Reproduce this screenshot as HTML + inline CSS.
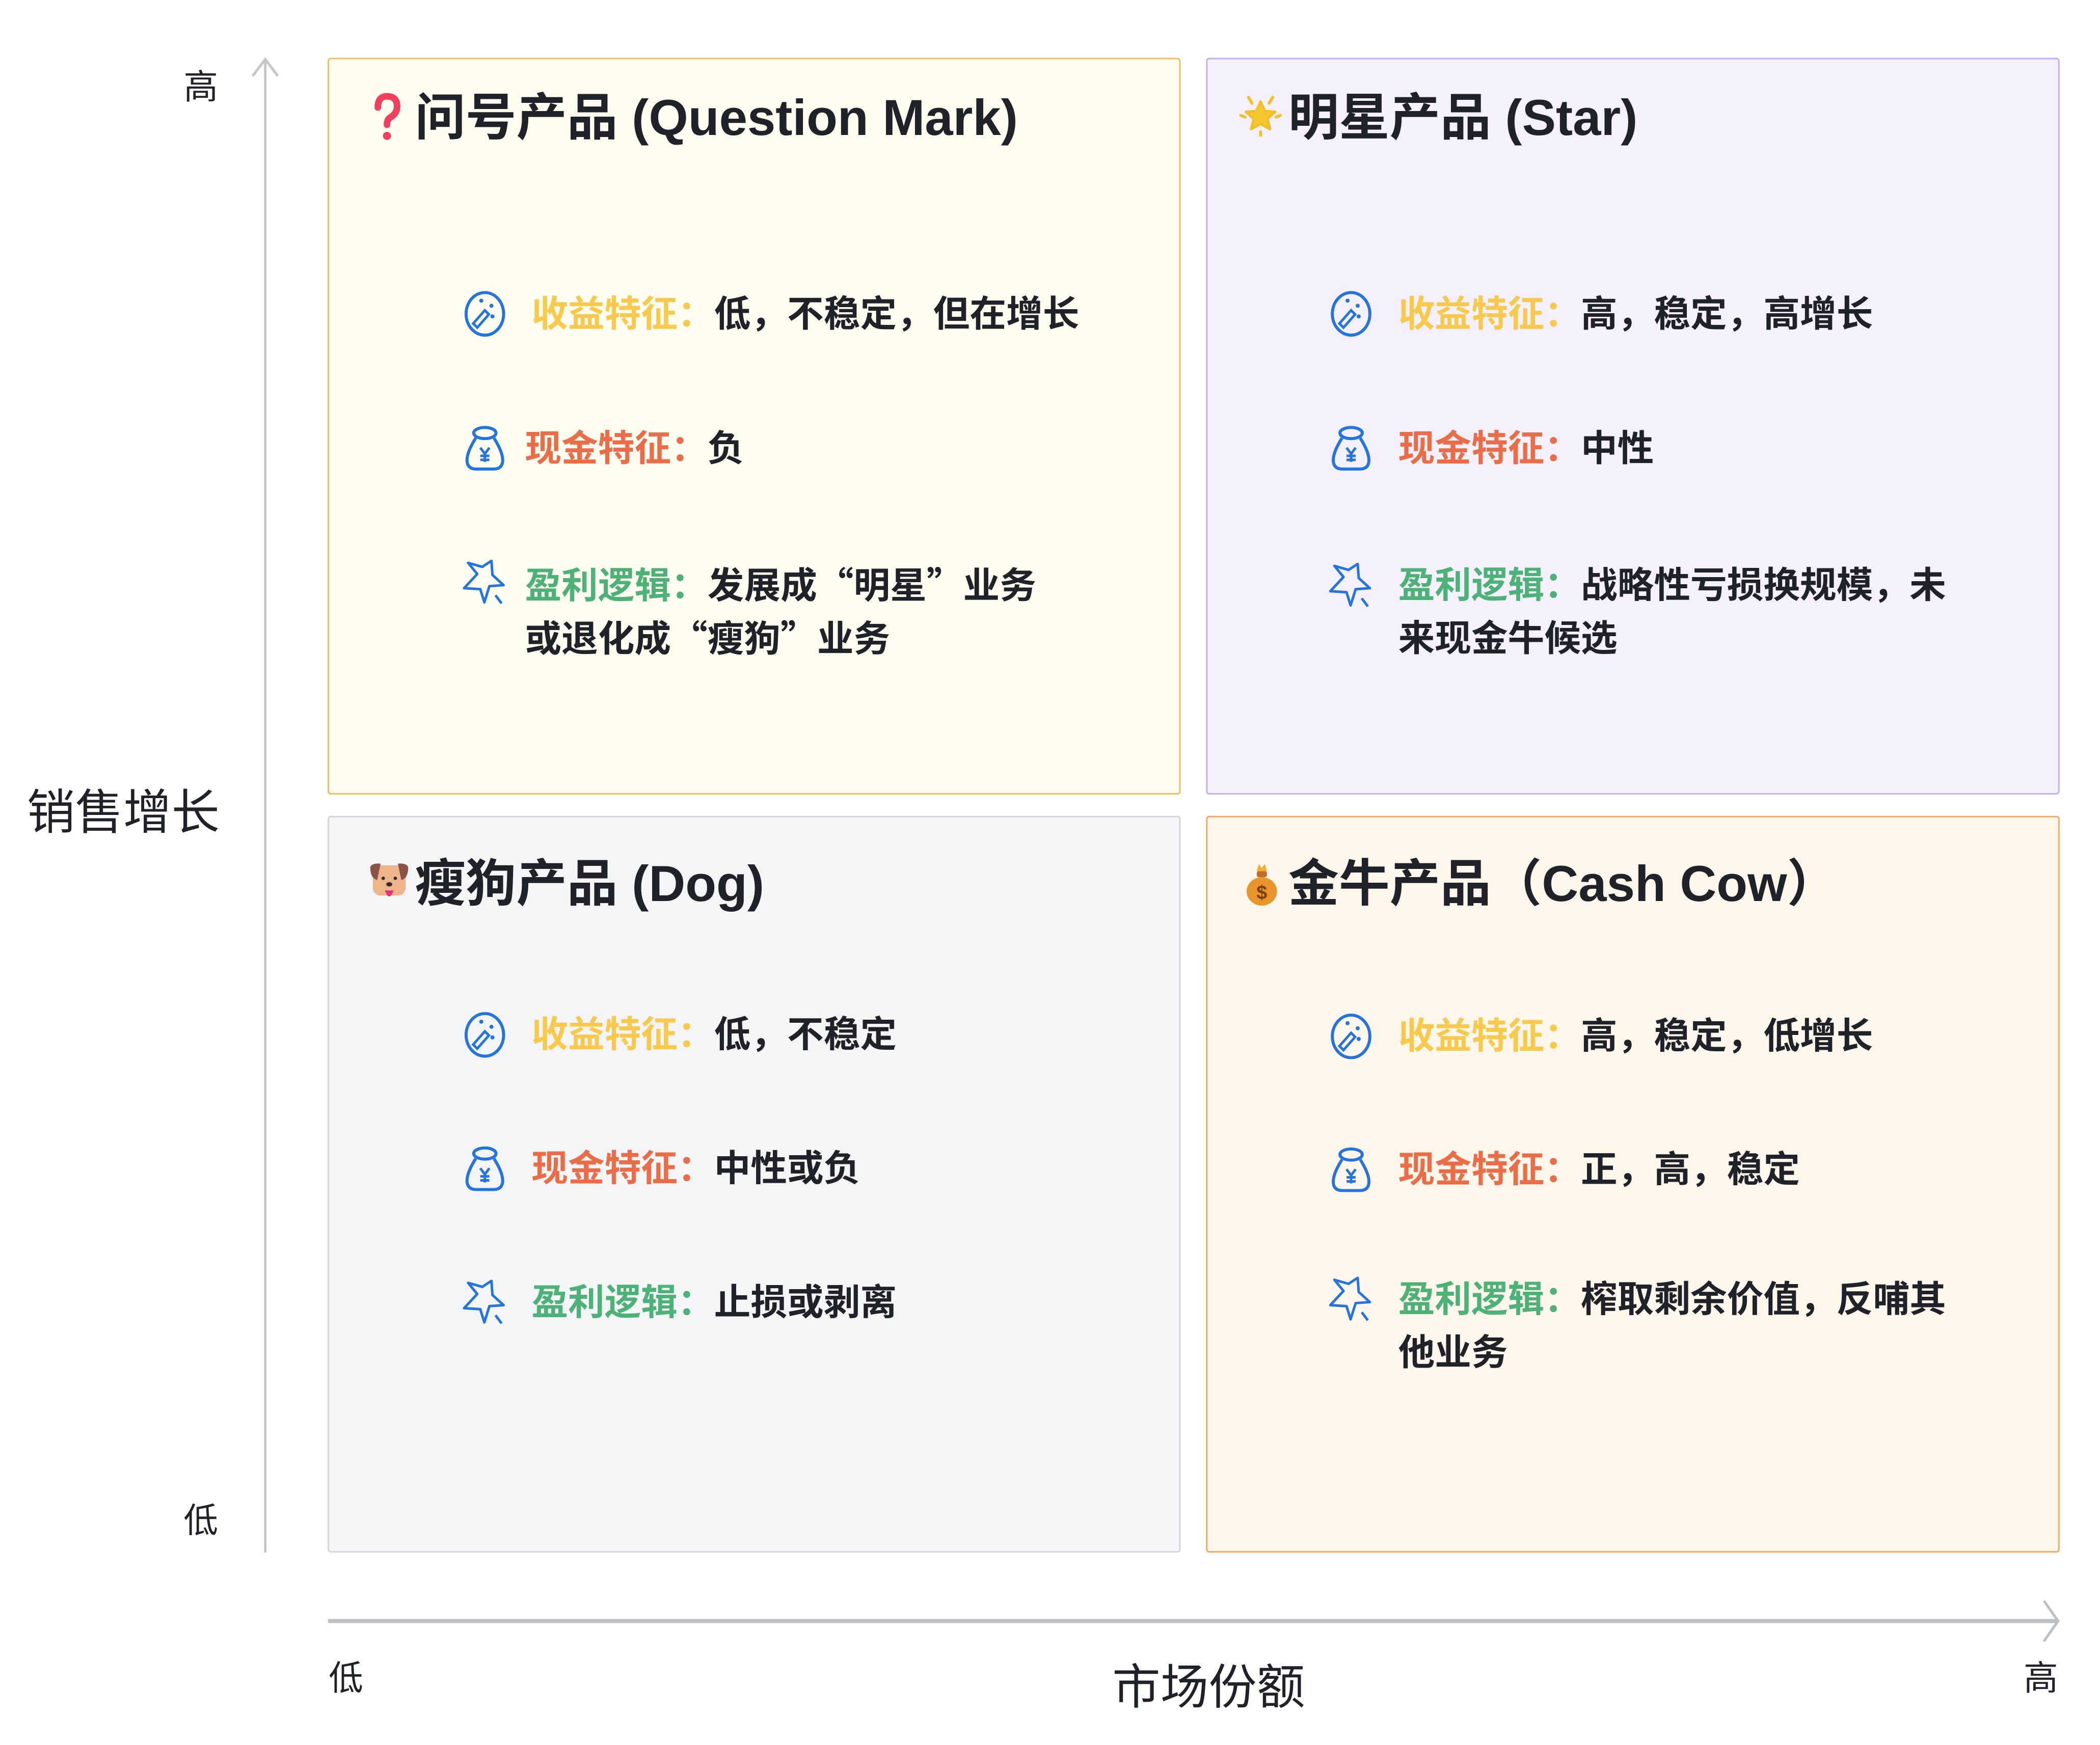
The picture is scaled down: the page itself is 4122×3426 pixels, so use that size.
<!DOCTYPE html>
<html><head><meta charset="utf-8"><style>
*{margin:0;padding:0;box-sizing:border-box}
body{width:4122px;height:3426px;background:#fff;position:relative;overflow:hidden;font-family:"Liberation Sans","Noto Sans CJK SC",sans-serif;color:#1f2329}
#w{position:absolute;left:0;top:0;width:4122px;height:3426px;transform:scale(0.9955);transform-origin:0 0}
.box{position:absolute;border:3px solid;border-radius:6px}
.t{position:absolute;line-height:1;white-space:nowrap}
.title{font-size:100px;font-weight:700;height:100px}
.it{font-size:72px;font-weight:700;height:72px}
.y{color:#f8c94b}.o{color:#eb6d48}.g{color:#4cb277}
.q{font-family:"Noto Sans CJK SC",sans-serif}
.ic{position:absolute;width:90px;height:90px}
.ax{position:absolute;font-size:68px;line-height:1;height:68px;text-align:center;width:120px}
.big{position:absolute;font-size:95px;line-height:1;height:95px;text-align:center;width:600px}
</style></head><body><div id="w">

<div class="box" style="left:646px;top:114px;width:1682px;height:1453px;background:#fffcf0;border-color:#ecc060"></div>
<div class="box" style="left:2378px;top:114px;width:1683px;height:1453px;background:#f4f1fd;border-color:#c1b2ee"></div>
<div class="box" style="left:646px;top:1609px;width:1682px;height:1453px;background:#f4f5f7;border-color:#d3d6da"></div>
<div class="box" style="left:2378px;top:1609px;width:1683px;height:1453px;background:#fff6ec;border-color:#f0a867"></div>

<svg style="position:absolute;left:0;top:0" width="4122" height="3426">
<line x1="523" y1="119" x2="523" y2="3062" stroke="#c4c6ca" stroke-width="5"/>
<polyline points="498,150 523,117 548,150" fill="none" stroke="#c4c6ca" stroke-width="5"/>
<line x1="647" y1="3197" x2="4058" y2="3197" stroke="#bcbfc4" stroke-width="8"/>
<polyline points="4030,3157 4058,3197 4030,3237" fill="none" stroke="#bcbfc4" stroke-width="5"/>
</svg>
<div class="ax" style="left:336px;top:138px">高</div>
<div class="ax" style="left:336px;top:2965px">低</div>
<div class="big" style="left:-57px;top:1556px">销售增长</div>
<div class="ax" style="left:622px;top:3276px">低</div>
<div class="big" style="left:2083px;top:3281px">市场份额</div>
<div class="ax" style="left:3964px;top:3276px">高</div>

<svg class="ic" style="left:725px;top:182px;width:70px;height:100px" viewBox="0 0 70 100"><path d="M20 30 Q20 8 38 8 Q58 8 58 28 Q58 42 44 50 Q38 54 38 64" fill="none" stroke="#f0405e" stroke-width="13" stroke-linecap="round"/><circle cx="38" cy="86" r="8" fill="#f0405e"/></svg>
<svg class="ic" style="left:2443px;top:185px;width:85px;height:85px" viewBox="0 0 100 100"><polygon points="50,18 60,40 84,42 66,58 72,82 50,70 28,82 34,58 16,42 40,40" fill="#f5c630" stroke="#f2c02a" stroke-width="6" stroke-linejoin="round"/><path d="M22 8 L30 22 M78 8 L70 22 M4 50 L14 54 M96 50 L86 54 M50 96 L50 88" stroke="#f2c02a" stroke-width="7" stroke-linecap="round"/></svg>
<svg class="ic" style="left:725px;top:1698px;width:85px;height:82px" viewBox="0 0 100 96"><rect x="12" y="10" width="76" height="70" rx="18" fill="#eeb58a"/><path d="M6 14 Q10 4 30 6 L22 44 Q6 40 6 14Z" fill="#8a5448"/><path d="M94 14 Q90 4 70 6 L78 44 Q94 40 94 14Z" fill="#8a5448"/><circle cx="36" cy="40" r="4" fill="#3a2a2a"/><circle cx="64" cy="40" r="4" fill="#3a2a2a"/><ellipse cx="50" cy="54" rx="7" ry="5" fill="#3a2a2a"/><path d="M40 68 Q50 96 60 68Z" fill="#e0357e"/></svg>
<svg class="ic" style="left:2448px;top:1698px;width:80px;height:90px" viewBox="0 0 80 90"><ellipse cx="40" cy="60" rx="30" ry="28" fill="#e8962c"/><rect x="30" y="20" width="20" height="12" rx="4" fill="#c46a2a"/><polygon points="30,20 34,6 40,14 46,6 50,20" fill="#f2b030"/><text x="40" y="75" font-size="38" font-weight="700" text-anchor="middle" fill="#7a3d12" font-family="Liberation Sans">$</text></svg>

<div class="t title" style="left:818px;top:182px">问号产品 (Question Mark)</div>
<div class="t title" style="left:2540px;top:182px">明星产品 (Star)</div>
<div class="t title" style="left:818px;top:1693px">瘦狗产品 (Dog)</div>
<div class="t title" style="left:2540px;top:1693px">金牛产品（Cash Cow）</div>

<svg class="ic" style="left:911px;top:574px" viewBox="0 0 90 90"><ellipse cx="45" cy="45" rx="37" ry="42" fill="none" stroke="#2474e0" stroke-width="6"/><circle cx="38" cy="19" r="4" fill="#2474e0"/><circle cx="58" cy="29" r="4" fill="#2474e0"/><circle cx="60" cy="50" r="4" fill="#2474e0"/><path d="M22 64 L45 38 L53 46 L30 72Z" fill="none" stroke="#2474e0" stroke-width="5"/></svg>
<div class="t it y" style="left:1048px;top:584px">收益特征：<span style="color:#1f2329">低，不稳定，但在增长</span></div>
<svg class="ic" style="left:911px;top:839px" viewBox="0 0 90 90"><ellipse cx="45" cy="15" rx="22" ry="11" fill="none" stroke="#2474e0" stroke-width="6"/><path d="M27 25 Q8 55 10 72 Q12 86 28 86 L62 86 Q78 86 80 72 Q82 55 63 25" fill="none" stroke="#2474e0" stroke-width="6"/><path d="M36 44 L45 56 L54 44 M45 56 L45 72 M36 60 L54 60 M36 68 L54 68" fill="none" stroke="#2474e0" stroke-width="5"/></svg>
<div class="t it o" style="left:1035px;top:849px">现金特征：<span style="color:#1f2329">负</span></div>
<svg class="ic" style="left:911px;top:1104px" viewBox="0 0 90 90"><path d="M30 28 L12 6 L40 14 L58 2 L60 30 L82 50 L54 52 L44 84 L36 58 L4 56 Z" fill="none" stroke="#2474e0" stroke-width="5" stroke-linejoin="round"/><path d="M66 70 L78 86" stroke="#2474e0" stroke-width="5"/></svg>
<div class="t it g" style="left:1035px;top:1113px">盈利逻辑：<span style="color:#1f2329">发展成<span class="q">“</span>明星<span class="q">”</span>业务</span></div>
<div class="t it" style="left:1035px;top:1218px">或退化成<span class="q">“</span>瘦狗<span class="q">”</span>业务</div>

<svg class="ic" style="left:2619px;top:574px" viewBox="0 0 90 90"><ellipse cx="45" cy="45" rx="37" ry="42" fill="none" stroke="#2474e0" stroke-width="6"/><circle cx="38" cy="19" r="4" fill="#2474e0"/><circle cx="58" cy="29" r="4" fill="#2474e0"/><circle cx="60" cy="50" r="4" fill="#2474e0"/><path d="M22 64 L45 38 L53 46 L30 72Z" fill="none" stroke="#2474e0" stroke-width="5"/></svg>
<div class="t it y" style="left:2757px;top:584px">收益特征：<span style="color:#1f2329">高，稳定，高增长</span></div>
<svg class="ic" style="left:2619px;top:839px" viewBox="0 0 90 90"><ellipse cx="45" cy="15" rx="22" ry="11" fill="none" stroke="#2474e0" stroke-width="6"/><path d="M27 25 Q8 55 10 72 Q12 86 28 86 L62 86 Q78 86 80 72 Q82 55 63 25" fill="none" stroke="#2474e0" stroke-width="6"/><path d="M36 44 L45 56 L54 44 M45 56 L45 72 M36 60 L54 60 M36 68 L54 68" fill="none" stroke="#2474e0" stroke-width="5"/></svg>
<div class="t it o" style="left:2757px;top:849px">现金特征：<span style="color:#1f2329">中性</span></div>
<svg class="ic" style="left:2619px;top:1110px" viewBox="0 0 90 90"><path d="M30 28 L12 6 L40 14 L58 2 L60 30 L82 50 L54 52 L44 84 L36 58 L4 56 Z" fill="none" stroke="#2474e0" stroke-width="5" stroke-linejoin="round"/><path d="M66 70 L78 86" stroke="#2474e0" stroke-width="5"/></svg>
<div class="t it g" style="left:2757px;top:1119px">盈利逻辑：<span style="color:#1f2329">战略性亏损换规模，未</span></div>
<div class="t it" style="left:2757px;top:1224px">来现金牛候选</div>

<svg class="ic" style="left:911px;top:1996px" viewBox="0 0 90 90"><ellipse cx="45" cy="45" rx="37" ry="42" fill="none" stroke="#2474e0" stroke-width="6"/><circle cx="38" cy="19" r="4" fill="#2474e0"/><circle cx="58" cy="29" r="4" fill="#2474e0"/><circle cx="60" cy="50" r="4" fill="#2474e0"/><path d="M22 64 L45 38 L53 46 L30 72Z" fill="none" stroke="#2474e0" stroke-width="5"/></svg>
<div class="t it y" style="left:1048px;top:2005px">收益特征：<span style="color:#1f2329">低，不稳定</span></div>
<svg class="ic" style="left:911px;top:2260px" viewBox="0 0 90 90"><ellipse cx="45" cy="15" rx="22" ry="11" fill="none" stroke="#2474e0" stroke-width="6"/><path d="M27 25 Q8 55 10 72 Q12 86 28 86 L62 86 Q78 86 80 72 Q82 55 63 25" fill="none" stroke="#2474e0" stroke-width="6"/><path d="M36 44 L45 56 L54 44 M45 56 L45 72 M36 60 L54 60 M36 68 L54 68" fill="none" stroke="#2474e0" stroke-width="5"/></svg>
<div class="t it o" style="left:1048px;top:2269px">现金特征：<span style="color:#1f2329">中性或负</span></div>
<svg class="ic" style="left:911px;top:2524px" viewBox="0 0 90 90"><path d="M30 28 L12 6 L40 14 L58 2 L60 30 L82 50 L54 52 L44 84 L36 58 L4 56 Z" fill="none" stroke="#2474e0" stroke-width="5" stroke-linejoin="round"/><path d="M66 70 L78 86" stroke="#2474e0" stroke-width="5"/></svg>
<div class="t it g" style="left:1048px;top:2533px">盈利逻辑：<span style="color:#1f2329">止损或剥离</span></div>

<svg class="ic" style="left:2619px;top:1999px" viewBox="0 0 90 90"><ellipse cx="45" cy="45" rx="37" ry="42" fill="none" stroke="#2474e0" stroke-width="6"/><circle cx="38" cy="19" r="4" fill="#2474e0"/><circle cx="58" cy="29" r="4" fill="#2474e0"/><circle cx="60" cy="50" r="4" fill="#2474e0"/><path d="M22 64 L45 38 L53 46 L30 72Z" fill="none" stroke="#2474e0" stroke-width="5"/></svg>
<div class="t it y" style="left:2757px;top:2008px">收益特征：<span style="color:#1f2329">高，稳定，低增长</span></div>
<svg class="ic" style="left:2619px;top:2262px" viewBox="0 0 90 90"><ellipse cx="45" cy="15" rx="22" ry="11" fill="none" stroke="#2474e0" stroke-width="6"/><path d="M27 25 Q8 55 10 72 Q12 86 28 86 L62 86 Q78 86 80 72 Q82 55 63 25" fill="none" stroke="#2474e0" stroke-width="6"/><path d="M36 44 L45 56 L54 44 M45 56 L45 72 M36 60 L54 60 M36 68 L54 68" fill="none" stroke="#2474e0" stroke-width="5"/></svg>
<div class="t it o" style="left:2757px;top:2271px">现金特征：<span style="color:#1f2329">正，高，稳定</span></div>
<svg class="ic" style="left:2619px;top:2518px" viewBox="0 0 90 90"><path d="M30 28 L12 6 L40 14 L58 2 L60 30 L82 50 L54 52 L44 84 L36 58 L4 56 Z" fill="none" stroke="#2474e0" stroke-width="5" stroke-linejoin="round"/><path d="M66 70 L78 86" stroke="#2474e0" stroke-width="5"/></svg>
<div class="t it g" style="left:2757px;top:2527px">盈利逻辑：<span style="color:#1f2329">榨取剩余价值，反哺其</span></div>
<div class="t it" style="left:2757px;top:2632px">他业务</div>

</div></body></html>
